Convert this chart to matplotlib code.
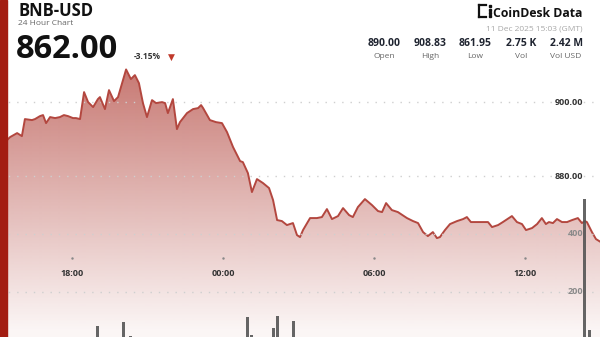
import numpy as np
import matplotlib
matplotlib.use("Agg")
import matplotlib.pyplot as plt
from matplotlib.patches import Rectangle
from matplotlib.lines import Line2D

plt.rcParams['font.family'] = ['Open Sans', 'DejaVu Sans']

# hours relative to 00:00, 11 Dec 2025 (GMT); chart runs 15:03 -> 15:03
hours = [-8.95, -8.58, -8.46, -8.18, -7.99, -7.87, -7.59, -7.47, -7.27, -7.15,
         -7.03, -6.87, -6.67, -6.48, -6.32, -6.16, -5.96, -5.84, -5.68, -5.52,
         -5.36, -5.16, -4.97, -4.89, -4.69, -4.53, -4.33, -4.17, -3.85, -3.66,
         -3.50, -3.34, -3.18, -3.02, -2.82, -2.66, -2.42, -2.30, -2.19, -1.99,
         -1.83, -1.71, -1.43, -1.19, -0.99, -0.87, -0.79, -0.52, -0.28, -0.04,
         0.16, 0.40, 0.68, 0.79, 0.99, 1.15, 1.35, 1.59, 1.83, 1.99,
         2.15, 2.34, 2.54, 2.78, 2.94, 3.06, 3.18, 3.46, 3.73, 3.93,
         4.13, 4.33, 4.57, 4.77, 5.01, 5.16, 5.36, 5.64, 5.92, 6.16,
         6.32, 6.48, 6.71, 6.95, 7.31, 7.55, 7.75, 7.95, 8.14, 8.34,
         8.50, 8.62, 8.82, 9.02, 9.30, 9.54, 9.69, 9.85, 10.33, 10.53,
         10.69, 10.93, 11.12, 11.48, 11.68, 11.88, 12.04, 12.28, 12.48, 12.67,
         12.83, 12.95, 13.11, 13.27, 13.47, 13.67, 13.87, 14.10, 14.26, 14.38,
         14.46, 14.66, 14.82, 15.05]
price = [890.00, 889.73, 890.54, 891.62, 890.81, 895.41, 895.14, 895.41, 896.22, 896.49,
         894.32, 895.95, 895.68, 895.95, 896.49, 896.22, 895.68, 895.68, 895.41, 902.70,
         900.00, 898.65, 900.81, 901.35, 898.11, 903.24, 900.27, 901.35, 908.83, 906.22,
         907.30, 905.14, 899.73, 895.95, 900.54, 899.73, 900.00, 899.73, 897.03, 900.81,
         892.70, 894.59, 897.03, 898.11, 898.38, 899.19, 898.38, 895.14, 894.59, 894.32,
         891.89, 887.84, 884.05, 883.78, 880.81, 875.68, 879.19, 878.11, 876.76, 873.51,
         868.11, 867.84, 866.76, 867.30, 864.05, 863.51, 865.41, 868.65, 868.65, 868.92,
         871.08, 868.38, 869.19, 871.35, 869.46, 868.92, 871.62, 873.78, 872.16, 870.54,
         870.27, 872.70, 870.81, 870.27, 868.65, 867.84, 867.30, 864.86, 863.78, 864.86,
         863.24, 863.51, 865.41, 867.03, 867.84, 868.38, 868.92, 867.57, 867.57, 867.57,
         866.22, 866.76, 867.57, 869.19, 867.57, 867.03, 865.41, 865.95, 867.03, 868.65,
         867.03, 867.57, 867.30, 868.38, 867.57, 867.57, 868.11, 868.65, 867.30, 867.84,
         867.57, 864.86, 862.97, 862.00]

vol_hours = [-4.97, -3.97, -3.69, 0.99, 1.15, 1.99, 2.15, 2.82, 14.38, 14.58]
vol = [83, 97, 48, 114, 50, 76, 117, 100, 521, 69]

time_ticks = [-6, 0, 6, 12]
time_labels = ["18:00", "00:00", "06:00", "12:00"]
price_ticks = [900, 880]
vol_ticks = [400, 200]

stat_values = ["890.00", "908.83", "861.95", "2.75 K", "2.42 M"]
stat_names = ["Open", "High", "Low", "Vol", "Vol USD"]

W, H = 600, 337
xlim = (-8.86, 14.98)
ylim = (836.5, 927.6)
vlim = (44.8, 1206.9)
line_col = '#b3473f'


def px(x, y):
    return x / W, 1 - y / H


fig = plt.figure(figsize=(6, 3.37), dpi=100)
fig.patch.set_facecolor('white')
ax = fig.add_axes([0, 0, 1, 1])
ax.set_xlim(xlim)
ax.set_ylim(ylim)
ax.set_axis_off()

# gradient fill under the price line
rows = np.arange(H)
alpha = np.clip(0.70 - 0.0026 * (rows - 80), 0.05, 0.92)
grad = np.zeros((H, 1, 4))
grad[..., :3] = matplotlib.colors.to_rgb(line_col)
grad[:, 0, 3] = alpha
poly = ax.fill_between(hours, price, ylim[0] - 5, facecolor='none', edgecolor='none')
im = ax.imshow(grad, extent=(xlim[0], xlim[1], ylim[0], ylim[1]), origin='upper',
               aspect='auto', zorder=1, interpolation='bilinear')
im.set_clip_path(poly.get_paths()[0], transform=ax.transData)
ax.set_xlim(xlim)
ax.set_ylim(ylim)

dots = (0, (1, 5))
grid_col = '#cfcfcf'
for p in price_ticks:
    ax.axhline(p, color=grid_col, lw=1.0, ls=dots, zorder=1.5)
    ax.text(583 / W, p, f"{p:.2f}", transform=ax.get_yaxis_transform(),
            ha='right', va='center', fontsize=6.5, fontweight='bold', color='#333333', zorder=5)

ax.plot(hours, price, color=line_col, lw=1.4, solid_joinstyle='round', zorder=2)

xt = ax.get_xaxis_transform()
for t, lab in zip(time_ticks, time_labels):
    ax.plot([t], [1 - 258 / H], marker='.', ms=1.5, color='#888888', transform=xt, zorder=3)
    ax.text(t, 1 - 273 / H, lab, transform=xt, ha='center', va='center',
            fontsize=6.5, fontweight='bold', color='#333333', zorder=3)

# volume
ax2 = ax.twinx()
ax2.set_position([0, 0, 1, 1])
ax2.set_ylim(vlim)
ax2.set_xlim(xlim)
ax2.set_axis_off()
for v in vol_ticks:
    ax2.axhline(v, color=grid_col, lw=1.0, ls=dots, zorder=1)
    ax2.text(583 / W, v, str(v), transform=ax2.get_yaxis_transform(),
             ha='right', va='center', fontsize=6.5, fontweight='bold', color='#8a8a8a', zorder=5)
ax2.bar(vol_hours, vol, width=0.12, color='#555555', alpha=0.9, zorder=2)

# left accent bar
fig.add_artist(Rectangle((0, 0), 7 / W, 1, transform=fig.transFigure,
                         color='#a31d12', zorder=10))

# header, left
fig.text(*px(18, 16), "BNB-USD", fontsize=12, fontweight='bold', color='#111111')
fig.text(*px(18, 25), "24 Hour Chart", fontsize=6, color='#666666')
fig.text(*px(16, 58), "862.00", fontsize=23.5, fontweight='bold', color='#111111')
fig.text(*px(134, 59), "-3.15%", fontsize=6, fontweight='bold', color='#333333')
fig.text(*px(168, 60), "▼", fontsize=6.5, color='#c0392b', family='DejaVu Sans')

# header, right
logo = [((479, 479), (5, 17)), ((479, 486), (5, 5)), ((479, 486), (17, 17))]
for xs, ys in logo:
    fig.add_artist(Line2D([x / W for x in xs], [1 - y / H for y in ys],
                          transform=fig.transFigure, color='#111111', lw=1.6))
for yy in (6, 10, 13, 16):
    fig.add_artist(Line2D([490 / W], [1 - yy / H], transform=fig.transFigure,
                          marker='s', ms=1.6, color='#111111', lw=0))
fig.text(*px(493, 17), "CoinDesk Data", fontsize=8.8, fontweight='bold', color='#111111')
fig.text(*px(583, 31), "11 Dec 2025 15:03 (GMT)", fontsize=6, color='#a8a8a8', ha='right')

centers = [384, 430, 475, 521, 566]
for cx, val, name in zip(centers, stat_values, stat_names):
    fig.text(*px(cx, 43), val, fontsize=7.5, fontweight='bold', color='#1f2430',
             ha='center', va='center')
    fig.text(*px(cx, 56), name, fontsize=6, color='#666666', ha='center', va='center')

fig.savefig("out.png", dpi=100)
